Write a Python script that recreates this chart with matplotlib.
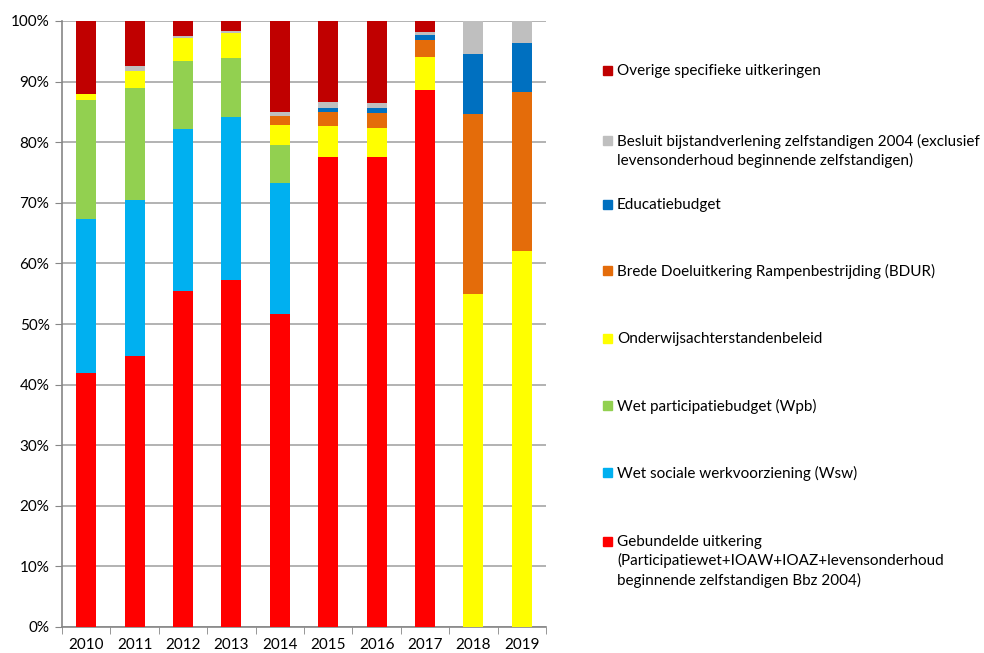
import numpy as np
import matplotlib
matplotlib.use("Agg")
import matplotlib.pyplot as plt
from matplotlib.ticker import MultipleLocator, FuncFormatter
from matplotlib.patches import Rectangle

plt.rcParams['font.family'] = ['Lato', 'DejaVu Sans']

years = ['2010', '2011', '2012', '2013', '2014', '2015', '2016', '2017', '2018', '2019']

# shares per regeling (%), bottom to top
gebundeld = [41.9, 44.8, 55.4, 57.2, 51.7, 77.6, 77.6, 88.6, 0.0, 0.0]
wsw = [25.4, 25.7, 26.7, 27.0, 21.6, 0.0, 0.0, 0.0, 0.0, 0.0]
wpb = [19.7, 18.5, 11.3, 9.7, 6.2, 0.0, 0.0, 0.0, 0.0, 0.0]
onderwijs = [1.0, 2.7, 3.8, 4.2, 3.3, 5.0, 4.8, 5.5, 54.9, 62.0]
bdur = [0.0, 0.0, 0.0, 0.0, 1.6, 2.4, 2.4, 2.8, 29.8, 26.3]
educatie = [0.0, 0.0, 0.0, 0.0, 0.0, 0.7, 0.8, 0.8, 9.9, 8.1]
bbz = [0.0, 0.9, 0.4, 0.3, 0.6, 0.9, 0.8, 0.5, 5.4, 3.6]
overige = [12.0, 7.4, 2.4, 1.6, 15.0, 13.4, 13.6, 1.8, 0.0, 0.0]

series = [
    (gebundeld, '#FF0000', 'Gebundelde uitkering\n(Participatiewet+IOAW+IOAZ+levensonderhoud\nbeginnende zelfstandigen Bbz 2004)'),
    (wsw, '#00B0F0', 'Wet sociale werkvoorziening (Wsw)'),
    (wpb, '#92D050', 'Wet participatiebudget (Wpb)'),
    (onderwijs, '#FFFF00', 'Onderwijsachterstandenbeleid'),
    (bdur, '#E46C0A', 'Brede Doeluitkering Rampenbestrijding (BDUR)'),
    (educatie, '#0070C0', 'Educatiebudget'),
    (bbz, '#BFBFBF', 'Besluit bijstandverlening zelfstandigen 2004 (exclusief\nlevensonderhoud beginnende zelfstandigen)'),
    (overige, '#C00000', 'Overige specifieke uitkeringen'),
]

fig = plt.figure(figsize=(9.84, 6.53), dpi=100)
ax = fig.add_axes([62/984, 1-627/653, 484/984, 606/653])

x = np.arange(len(years))
bottom = np.zeros(len(years))
for vals, col, lab in series:
    v = np.array(vals)
    ax.bar(x, v, 0.41, bottom=bottom, color=col, edgecolor='none', zorder=3)
    bottom += v

ax.set_xlim(-0.5, len(years) - 0.5)
ax.set_ylim(0, 100)
ax.yaxis.set_major_locator(MultipleLocator(10))
ax.yaxis.set_major_formatter(FuncFormatter(lambda v, p: '%d%%' % v))
ax.grid(axis='y', color='#A6A6A6', lw=1.2, zorder=0)
ax.set_xticks(x)
ax.set_xticklabels(years)
ax.set_xticks(np.arange(-0.5, len(years)), minor=True)
ax.tick_params(axis='x', which='major', length=0, labelsize=11, pad=8, colors='black')
ax.tick_params(axis='x', which='minor', length=5, color='#868686', direction='out')
ax.tick_params(axis='y', length=5, color='#868686', labelsize=11, pad=4)
for s in ['top', 'right']:
    ax.spines[s].set_visible(False)
for s in ['left', 'bottom']:
    ax.spines[s].set_color('#868686')
    ax.spines[s].set_linewidth(1.2)

# legend, top entry = last series
legend_y = [70, 140, 204, 270, 338, 405, 472, 541]
for (vals, col, lab), yy in zip(series[::-1], legend_y):
    fig.patches.append(Rectangle((603/984, 1-(yy+5)/653), 9/984, 9/653,
                                 transform=fig.transFigure, color=col))
    fig.text(617/984, 1-(yy-6)/653, lab, fontsize=11, va='top', ha='left',
             linespacing=1.35)

fig.savefig('out.png', dpi=100)
